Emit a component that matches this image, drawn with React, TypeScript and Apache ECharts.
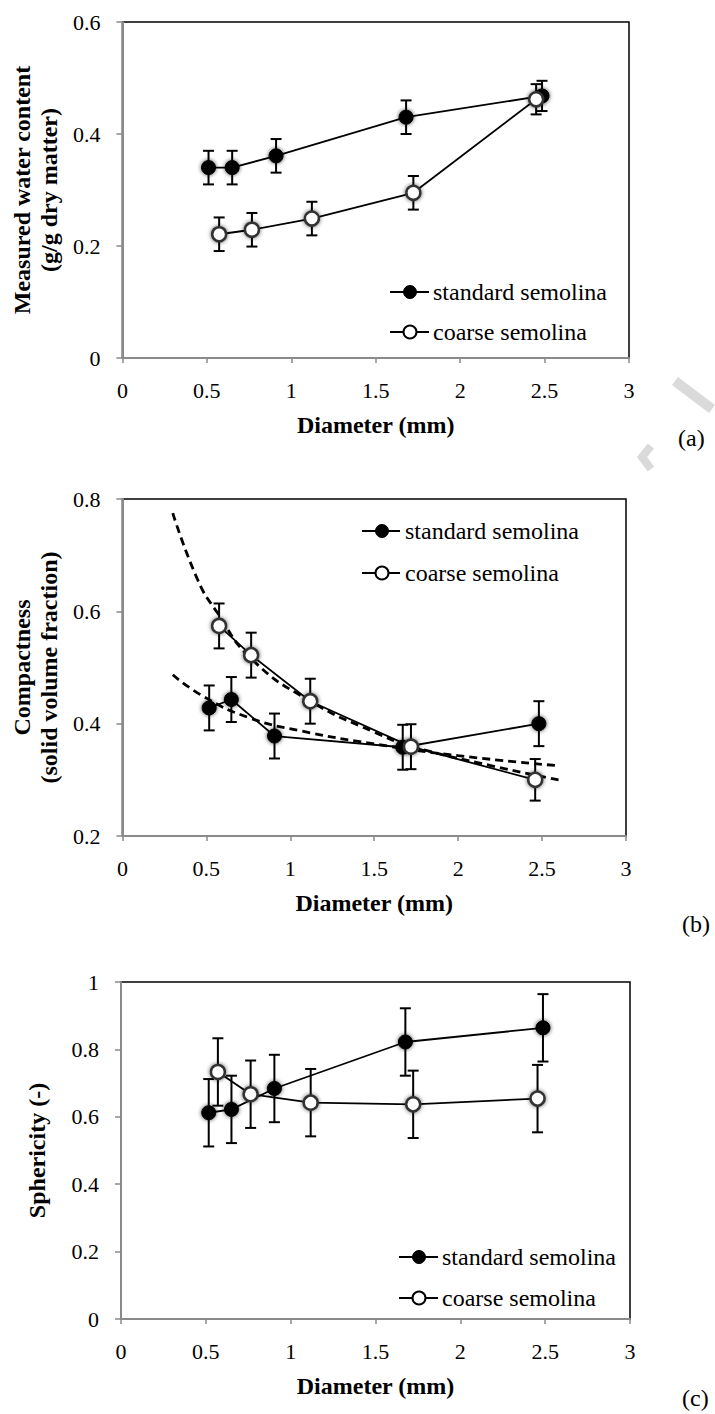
import React, { useEffect, useRef } from "react";
import * as echarts from "echarts";

const FONT = "'Liberation Serif', 'Times New Roman', serif";

// x tick range
const xTicks = { min: 0, max: 3, interval: 0.5 };

// Panel (a) — measured water content
const aStdX = [0.51, 0.65, 0.91, 1.68, 2.485];
const aStdY = [0.34, 0.34, 0.361, 0.43, 0.468];
const aStdErr = [0.03, 0.03, 0.03, 0.03, 0.027];
const aCoarseX = [0.573, 0.767, 1.122, 1.723, 2.45];
const aCoarseY = [0.221, 0.229, 0.249, 0.295, 0.462];
const aCoarseErr = [0.03, 0.03, 0.03, 0.03, 0.027];

// Panel (b) — compactness
const bStdX = [0.517, 0.649, 0.906, 1.67, 2.481];
const bStdY = [0.428, 0.443, 0.378, 0.358, 0.4];
const bStdErr = [0.04, 0.04, 0.04, 0.04, 0.04];
const bCoarseX = [0.576, 0.767, 1.119, 1.719, 2.459];
const bCoarseY = [0.574, 0.522, 0.44, 0.359, 0.3];
const bCoarseErr = [0.04, 0.04, 0.04, 0.04, 0.037];
// dashed trend curves
const bStdTrendX = [0.3, 0.48, 0.75, 1.05, 1.5, 2.0, 2.6];
const bStdTrendY = [0.487, 0.449, 0.411, 0.388, 0.364, 0.343, 0.325];
const bCoarseTrendX = [0.3, 0.45, 0.56, 0.77, 1.12, 1.5, 1.72, 2.2, 2.6];
const bCoarseTrendY = [0.775, 0.655, 0.6, 0.515, 0.44, 0.385, 0.36, 0.325, 0.3];

// Panel (c) — sphericity
const cStdX = [0.517, 0.651, 0.904, 1.676, 2.487];
const cStdY = [0.612, 0.622, 0.684, 0.822, 0.864];
const cStdErr = [0.1, 0.1, 0.1, 0.1, 0.1];
const cCoarseX = [0.571, 0.764, 1.118, 1.722, 2.455];
const cCoarseY = [0.733, 0.667, 0.642, 0.637, 0.654];
const cCoarseErr = [0.1, 0.1, 0.1, 0.1, 0.1];

const yRanges = [
  { min: 0, max: 0.6, interval: 0.2 },
  { min: 0.2, max: 0.8, interval: 0.2 },
  { min: 0, max: 1, interval: 0.2 },
];
const yNames = [
  "Measured water content\n(g/g dry matter)",
  "Compactness\n(solid volume fraction)",
  "Sphericity (-)",
];
const seriesNames = ["standard semolina", "coarse semolina"];
const panelLabels = ["(a)", "(b)", "(c)"];

const zip = (xs: number[], ys: number[]) => xs.map((x, i) => [x, ys[i]]);
const errData = (xs: number[], ys: number[], es: number[]) =>
  xs.map((x, i) => [x, ys[i] - es[i], ys[i] + es[i]]);

function errorBarSeries(idx: number, data: number[][]) {
  return {
    type: "custom",
    xAxisIndex: idx,
    yAxisIndex: idx,
    z: 2,
    silent: true,
    encode: { x: 0, y: [1, 2] },
    data,
    renderItem: (params: any, api: any) => {
      const x = api.value(0);
      const lo = api.value(1);
      const hi = api.value(2);
      const p1 = api.coord([x, hi]);
      const p2 = api.coord([x, lo]);
      const w = 5.5;
      const st = { stroke: "#000", lineWidth: 2 };
      return {
        type: "group",
        children: [
          { type: "line", shape: { x1: p1[0], y1: p1[1], x2: p2[0], y2: p2[1] }, style: st },
          { type: "line", shape: { x1: p1[0] - w, y1: p1[1], x2: p1[0] + w, y2: p1[1] }, style: st },
          { type: "line", shape: { x1: p2[0] - w, y1: p2[1], x2: p2[0] + w, y2: p2[1] }, style: st },
        ],
      };
    },
  };
}

function lineSeries(idx: number, name: string, data: number[][], filled: boolean) {
  return {
    type: "line",
    name,
    xAxisIndex: idx,
    yAxisIndex: idx,
    z: 4,
    data,
    symbol: "circle",
    symbolSize: 14,
    lineStyle: { color: "#000", width: 1.8 },
    itemStyle: filled
      ? { color: "#000", borderColor: "#000", borderWidth: 1, shadowBlur: 4, shadowColor: "rgba(0,0,0,0.7)" }
      : { color: "#fff", borderColor: "#333", borderWidth: 2.5, shadowBlur: 4, shadowColor: "rgba(0,0,0,0.6)" },
  };
}

function trendSeries(idx: number, data: number[][]) {
  return {
    type: "line",
    xAxisIndex: idx,
    yAxisIndex: idx,
    z: 3,
    data,
    smooth: 0.5,
    symbol: "none",
    silent: true,
    lineStyle: { color: "#000", width: 2.8, type: [8, 5] },
  };
}

const grids = [
  { left: 121, top: 22, width: 508, height: 336 },
  { left: 120, top: 499, width: 506, height: 337 },
  { left: 121, top: 982, width: 509, height: 337 },
];
const yNameGaps = [59, 59, 71];

const legendPos = [
  { x1: 390, x2: 429, mx: 410, tx: 433, y1: 292, y2: 332 },
  { x1: 362, x2: 400, mx: 382, tx: 405, y1: 531, y2: 573 },
  { x1: 399, x2: 438, mx: 419, tx: 442, y1: 1257, y2: 1298 },
];
const labelPos = [
  { x: 678, y: 438 },
  { x: 682, y: 924 },
  { x: 682, y: 1398 },
];

function legendGraphics() {
  const out: any[] = [];
  legendPos.forEach((p) => {
    [p.y1, p.y2].forEach((y, k) => {
      out.push({ type: "line", shape: { x1: p.x1, y1: y, x2: p.x2, y2: y }, style: { stroke: "#000", lineWidth: 2 } });
      out.push({
        type: "circle",
        shape: { cx: p.mx, cy: y, r: 6.5 },
        style:
          k === 0
            ? { fill: "#000", stroke: "#000", lineWidth: 1 }
            : { fill: "#fff", stroke: "#000", lineWidth: 2 },
      });
      out.push({
        type: "text",
        x: p.tx,
        y,
        style: { text: seriesNames[k], fontFamily: FONT, fontSize: 24, fill: "#000", verticalAlign: "middle", align: "left" },
      });
    });
  });
  panelLabels.forEach((t, i) => {
    out.push({
      type: "text",
      x: labelPos[i].x,
      y: labelPos[i].y,
      style: { text: t, fontFamily: FONT, fontSize: 24, fill: "#000", verticalAlign: "middle", align: "left" },
    });
  });
  // faint watermark fragments
  out.push({ type: "line", z: -1, shape: { x1: 675, y1: 381, x2: 712, y2: 409 }, style: { stroke: "#dadada", lineWidth: 10 } });
  out.push({ type: "polyline", z: -1, shape: { points: [[651, 446], [642, 457], [651, 469]] }, style: { stroke: "#dadada", lineWidth: 8, fill: "none" } });
  return out;
}

export default function App() {
  const ref = useRef<HTMLDivElement>(null);
  useEffect(() => {
    document.body.style.margin = "0";
    const chart = echarts.init(ref.current!, null, { renderer: "svg" });
    const xAxis = grids.map((_, i) => ({
      type: "value",
      gridIndex: i,
      ...xTicks,
      name: "Diameter (mm)",
      nameLocation: "middle",
      nameGap: 55,
      nameTextStyle: { fontFamily: FONT, fontSize: 24, fontWeight: "bold", color: "#000" },
      axisLine: { show: true, lineStyle: { color: "#8a8a8a", width: 2 } },
      axisTick: { show: true, length: 5, lineStyle: { color: "#8a8a8a", width: 1.5 } },
      axisLabel: { fontFamily: FONT, fontSize: 22, color: "#000", margin: 21 },
      splitLine: { show: false },
    }));
    const yAxis = grids.map((_, i) => ({
      type: "value",
      gridIndex: i,
      ...yRanges[i],
      name: yNames[i],
      nameLocation: "middle",
      nameRotate: 90,
      nameGap: yNameGaps[i],
      nameTextStyle: { fontFamily: FONT, fontSize: 24, fontWeight: "bold", color: "#000", lineHeight: 27 },
      axisLine: { show: true, lineStyle: { color: "#8a8a8a", width: 2 } },
      axisTick: { show: true, length: 6, lineStyle: { color: "#8a8a8a", width: 1.5 } },
      axisLabel: { fontFamily: FONT, fontSize: 22, color: "#000", margin: 22 },
      splitLine: { show: false },
    }));
    const series: any[] = [
      errorBarSeries(0, errData(aStdX, aStdY, aStdErr)),
      errorBarSeries(0, errData(aCoarseX, aCoarseY, aCoarseErr)),
      lineSeries(0, seriesNames[0], zip(aStdX, aStdY), true),
      lineSeries(0, seriesNames[1], zip(aCoarseX, aCoarseY), false),
      errorBarSeries(1, errData(bStdX, bStdY, bStdErr)),
      errorBarSeries(1, errData(bCoarseX, bCoarseY, bCoarseErr)),
      trendSeries(1, zip(bStdTrendX, bStdTrendY)),
      trendSeries(1, zip(bCoarseTrendX, bCoarseTrendY)),
      lineSeries(1, seriesNames[0], zip(bStdX, bStdY), true),
      lineSeries(1, seriesNames[1], zip(bCoarseX, bCoarseY), false),
      errorBarSeries(2, errData(cStdX, cStdY, cStdErr)),
      errorBarSeries(2, errData(cCoarseX, cCoarseY, cCoarseErr)),
      lineSeries(2, seriesNames[0], zip(cStdX, cStdY), true),
      lineSeries(2, seriesNames[1], zip(cCoarseX, cCoarseY), false),
    ];
    chart.setOption({
      animation: false,
      backgroundColor: "#fff",
      grid: grids.map((g) => ({ ...g, show: true, borderColor: "#000", borderWidth: 1.5, backgroundColor: "transparent" })),
      xAxis,
      yAxis,
      series,
      graphic: legendGraphics(),
    });
    return () => chart.dispose();
  }, []);
  return <div ref={ref} style={{ width: 715, height: 1414 }} />;
}
